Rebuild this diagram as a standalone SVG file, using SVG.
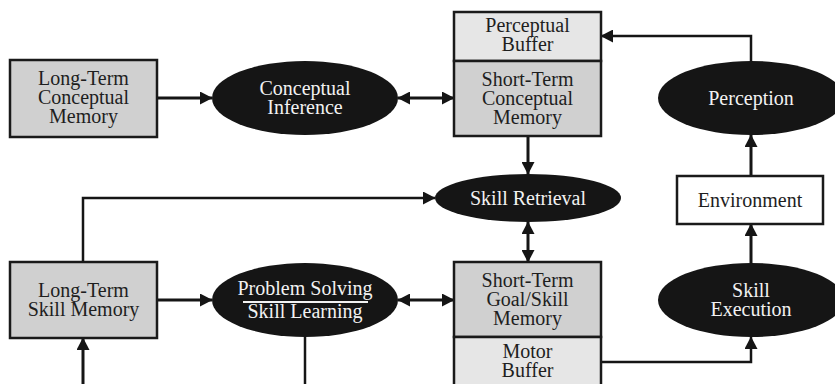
<svg xmlns="http://www.w3.org/2000/svg" width="835" height="384" viewBox="0 0 835 384">
<defs>
<marker id="ah" markerUnits="userSpaceOnUse" markerWidth="13" markerHeight="13" refX="12" refY="6.5" orient="auto-start-reverse" viewBox="0 0 13 13">
<path d="M0,0 L12.5,6.5 L0,13 Z" fill="#151515"/>
</marker>
<style>
.box{stroke:#1a1a1a;stroke-width:2.5}
.grey{fill:#d0d0d0}
.light{fill:#e6e6e6}
.white{fill:#ffffff}
.ell{fill:#151515}
text{font-family:"Liberation Serif","Times New Roman",serif;font-size:20px;text-anchor:middle}
.dk{fill:#1e1e1e}
.wt{fill:#f2f2f2}
.c{fill:none;stroke:#151515;stroke-width:3}
.t{fill:none;stroke:#151515;stroke-width:2.5}
</style>
</defs>
<rect width="835" height="384" fill="#ffffff"/>
<g id="connectors">
<line class="c" x1="157" y1="98" x2="212" y2="98" marker-end="url(#ah)"/>
<line class="c" x1="398" y1="98" x2="454" y2="98" marker-start="url(#ah)" marker-end="url(#ah)"/>
<path class="t" d="M751,61 V36 H601" marker-end="url(#ah)"/>
<line class="c" x1="528" y1="136" x2="528" y2="174" marker-end="url(#ah)"/>
<line class="c" x1="751" y1="176" x2="751" y2="135" marker-end="url(#ah)"/>
<path class="t" d="M83,262 V198 H435" marker-end="url(#ah)"/>
<line class="c" x1="528" y1="222" x2="528" y2="262" marker-start="url(#ah)" marker-end="url(#ah)"/>
<line class="c" x1="157" y1="300" x2="212" y2="300" marker-end="url(#ah)"/>
<line class="c" x1="398" y1="300" x2="454" y2="300" marker-start="url(#ah)" marker-end="url(#ah)"/>
<line class="c" x1="751" y1="263" x2="751" y2="224" marker-end="url(#ah)"/>
<path class="t" d="M601,362 H751 V337" marker-end="url(#ah)"/>
<line class="c" x1="83" y1="390" x2="83" y2="338" marker-end="url(#ah)"/>
<line class="t" x1="305" y1="337" x2="305" y2="390"/>
</g>
<g id="lt-conceptual-memory">
<rect class="box grey" x="10" y="60" width="147" height="77"/>
<text class="dk" x="83.5" y="85">Long-Term</text>
<text class="dk" x="83.5" y="104">Conceptual</text>
<text class="dk" x="83.5" y="123">Memory</text>
</g>
<g id="conceptual-inference">
<ellipse class="ell" cx="305" cy="98" rx="93" ry="37"/>
<text class="wt" x="305" y="95">Conceptual</text>
<text class="wt" x="305" y="114">Inference</text>
</g>
<g id="perceptual-buffer">
<rect class="box light" x="454" y="12" width="147" height="49"/>
<text class="dk" x="527.5" y="32">Perceptual</text>
<text class="dk" x="527.5" y="51">Buffer</text>
</g>
<g id="st-conceptual-memory">
<rect class="box grey" x="454" y="61" width="147" height="75"/>
<text class="dk" x="527.5" y="86">Short-Term</text>
<text class="dk" x="527.5" y="105">Conceptual</text>
<text class="dk" x="527.5" y="124">Memory</text>
</g>
<g id="perception">
<ellipse class="ell" cx="751" cy="98" rx="93" ry="37"/>
<text class="wt" x="751" y="105">Perception</text>
</g>
<g id="skill-retrieval">
<ellipse class="ell" cx="528" cy="198" rx="93" ry="24"/>
<text class="wt" x="528" y="205">Skill Retrieval</text>
</g>
<g id="environment">
<rect class="box white" x="677" y="176" width="146" height="48"/>
<text class="dk" x="750" y="207">Environment</text>
</g>
<g id="lt-skill-memory">
<rect class="box grey" x="10" y="262" width="147" height="76"/>
<text class="dk" x="83.5" y="297">Long-Term</text>
<text class="dk" x="83.5" y="316">Skill Memory</text>
</g>
<g id="problem-solving">
<ellipse class="ell" cx="305" cy="300" rx="93" ry="37"/>
<text class="wt" x="305" y="295">Problem Solving</text>
<line x1="243" y1="302" x2="368" y2="302" stroke="#f2f2f2" stroke-width="2"/>
<text class="wt" x="305" y="318">Skill Learning</text>
</g>
<g id="st-goal-skill-memory">
<rect class="box grey" x="454" y="262" width="147" height="75"/>
<text class="dk" x="527.5" y="287">Short-Term</text>
<text class="dk" x="527.5" y="306">Goal/Skill</text>
<text class="dk" x="527.5" y="325">Memory</text>
</g>
<g id="motor-buffer">
<rect class="box light" x="454" y="337" width="147" height="60"/>
<text class="dk" x="527.5" y="358">Motor</text>
<text class="dk" x="527.5" y="377">Buffer</text>
</g>
<g id="skill-execution">
<ellipse class="ell" cx="751" cy="300" rx="93" ry="37"/>
<text class="wt" x="751" y="297">Skill</text>
<text class="wt" x="751" y="316">Execution</text>
</g>
</svg>
